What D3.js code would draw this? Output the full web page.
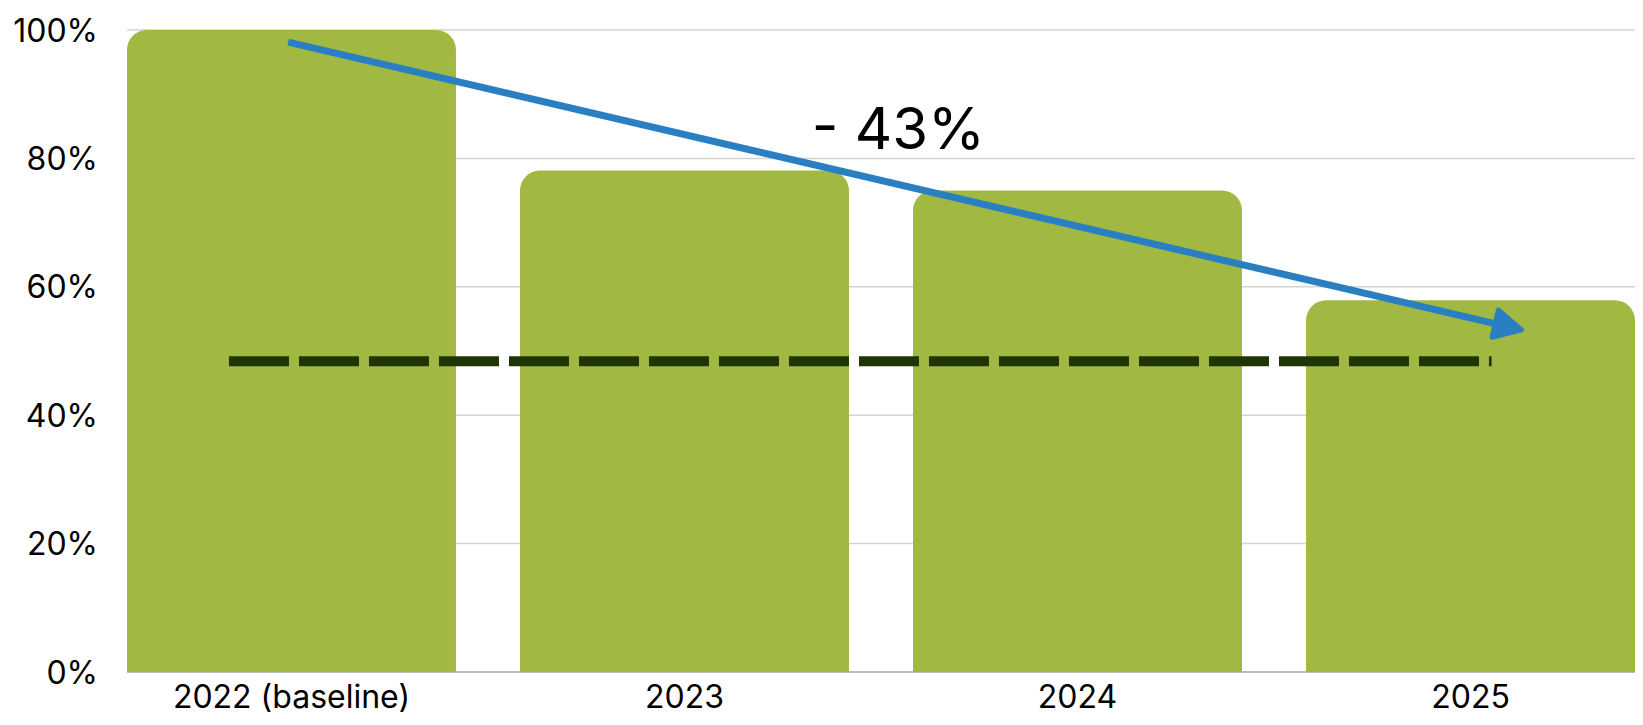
<!DOCTYPE html>
<html>
<head>
<meta charset="utf-8">
<script src="https://cdn.jsdelivr.net/npm/d3@7"></script>
<style>
  html, body { margin: 0; padding: 0; background: #fff; }
  svg { display: block; }
  text { font-family: Inter, Lato, "Noto Sans", sans-serif; fill: #000; }
</style>
</head>
<body>
<svg id="chart" width="1643" height="725"></svg>
<script>
// ---- data ----
const categories = ["2022 (baseline)", "2023", "2024", "2025"];
const values = [1.00, 0.781, 0.750, 0.579];
const yTicks = [0, 0.2, 0.4, 0.6, 0.8, 1.0];
const targetValue = 0.484;            // dashed target line
const changeLabel = "- 43%";
// arrow: from (category, fraction of band, value) to (category, fraction, value)
const arrowStart = { cat: "2022 (baseline)", frac: 0.49, value: 0.981 };
const arrowEnd   = { cat: "2025", frac: 0.655, value: 0.533 };

// ---- layout ----
const plotLeft = 127, plotRight = 1635, plotTop = 30, plotBottom = 672;

const svg = d3.select("#chart");

const x = d3.scaleBand().domain(categories).range([plotLeft, plotRight])
  .paddingInner(0.163).paddingOuter(0);
const y = d3.scaleLinear().domain([0, 1]).range([plotBottom, plotTop]);
const bw = x.bandwidth();

// gridlines
svg.append("g").selectAll("line").data(yTicks.filter(d => d > 0)).join("line")
  .attr("x1", plotLeft).attr("x2", plotRight)
  .attr("y1", d => y(d)).attr("y2", d => y(d))
  .attr("stroke", "#d3d3d3").attr("stroke-width", 1.5);

// baseline axis
svg.append("line").attr("x1", plotLeft).attr("x2", plotRight)
  .attr("y1", y(0)).attr("y2", y(0))
  .attr("stroke", "#a6a6a6").attr("stroke-width", 1.5);

// bars with rounded top corners
const rad = 20;
function barPath(x0, y0, w, h) {
  const rr = Math.min(rad, w / 2, h);
  return `M${x0},${y0 + h}V${y0 + rr}A${rr},${rr} 0 0 1 ${x0 + rr},${y0}` +
         `H${x0 + w - rr}A${rr},${rr} 0 0 1 ${x0 + w},${y0 + rr}V${y0 + h}Z`;
}
svg.append("g").selectAll("path").data(categories).join("path")
  .attr("d", (c, i) => barPath(x(c), y(values[i]), bw, y(0) - y(values[i])))
  .attr("fill", "#a1b842");

// y axis labels
svg.append("g").selectAll("text").data(yTicks).join("text")
  .attr("x", 98).attr("y", d => y(d))
  .attr("dy", "0.36em")
  .attr("text-anchor", "end")
  .attr("font-size", 32)
  .text(d3.format(".0%"));

// x axis labels
svg.append("g").selectAll("text").data(categories).join("text")
  .attr("x", c => x(c) + bw / 2).attr("y", 708)
  .attr("text-anchor", "middle")
  .attr("font-size", 32)
  .text(c => c);

// dashed target line
svg.append("line")
  .attr("x1", x(categories[0]) + bw * 0.31)
  .attr("x2", x(categories[3]) + bw * 0.564)
  .attr("y1", y(targetValue)).attr("y2", y(targetValue))
  .attr("stroke", "#1f3604").attr("stroke-width", 10)
  .attr("stroke-dasharray", "60 10");

// blue arrow
const ax1 = x(arrowStart.cat) + bw * arrowStart.frac, ay1 = y(arrowStart.value);
const ax2 = x(arrowEnd.cat) + bw * arrowEnd.frac, ay2 = y(arrowEnd.value);
const ang = Math.atan2(ay2 - ay1, ax2 - ax1);
const headLen = 27, headHalf = 14;
const bx = ax2 - headLen * Math.cos(ang), by = ay2 - headLen * Math.sin(ang);
svg.append("line")
  .attr("x1", ax1).attr("y1", ay1)
  .attr("x2", bx + 3 * Math.cos(ang)).attr("y2", by + 3 * Math.sin(ang))
  .attr("stroke", "#2a7fc3").attr("stroke-width", 7);
svg.append("path")
  .attr("d", d3.line()([
    [ax2, ay2],
    [bx - headHalf * Math.sin(ang), by + headHalf * Math.cos(ang)],
    [bx + headHalf * Math.sin(ang), by - headHalf * Math.cos(ang)]
  ]) + "Z")
  .attr("fill", "#2a7fc3").attr("stroke", "#2a7fc3")
  .attr("stroke-width", 5).attr("stroke-linejoin", "round");

// change label
svg.append("text")
  .attr("x", x(categories[1]) + bw * 1.15)
  .attr("y", y(0.815))
  .attr("text-anchor", "middle")
  .attr("font-size", 58)
  .text(changeLabel);
</script>
</body>
</html>
